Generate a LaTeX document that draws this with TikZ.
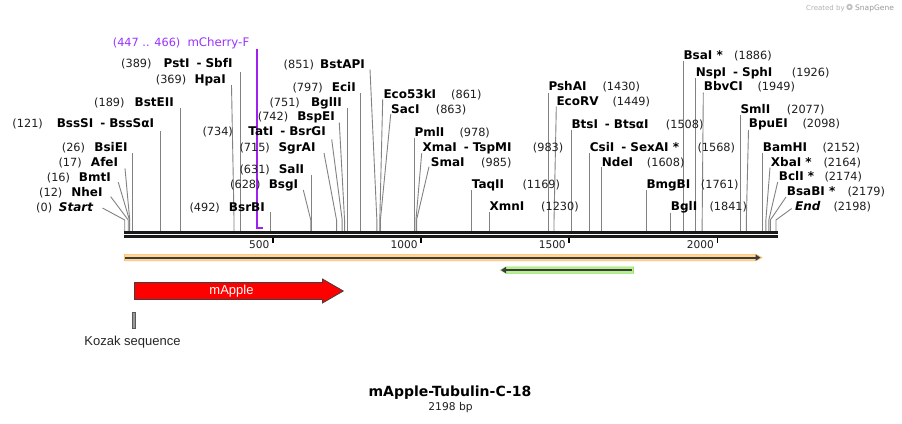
\documentclass[tikz,border=0pt]{standalone}
\usepackage{fontspec}
\setmainfont{DejaVu Sans}
\newfontfamily\arialfont{Liberation Sans}
\usetikzlibrary{arrows.meta}
\definecolor{sitegray}{RGB}{130,130,130}
\definecolor{numcol}{RGB}{30,30,30}
\definecolor{primercol}{RGB}{160,32,240}
\definecolor{primertext}{RGB}{153,51,255}
\definecolor{bbcol}{RGB}{26,26,26}
\definecolor{orangeband}{RGB}{255,214,150}
\definecolor{orangeedge}{RGB}{250,190,110}
\definecolor{greenband}{RGB}{180,240,140}
\definecolor{greenedge}{RGB}{150,225,110}
\definecolor{featline}{RGB}{60,60,60}
\tikzset{
  numlab/.style={inner sep=0pt, text=numcol, font=\fontsize{11.3}{13}\selectfont},
  namelab/.style={inner sep=0pt, text=black, font=\fontsize{12}{14}\selectfont\bfseries},
  site/.style={draw=sitegray, line width=0.9pt},
  ticklab/.style={inner sep=0pt, font=\fontsize{10.6}{12}\selectfont, text=numcol},
}
\newcommand{\rlab}[6]{%
  \node[namelab,anchor=base west] (#1n) at (#2,#3) {#4};
  \node[numlab,anchor=base west] (#1p) at (#5,#3) {#6};}
\newcommand{\llab}[6]{%
  \node[numlab,anchor=base west] (#1p) at (#2,#3) {#4};
  \node[namelab,anchor=base east] (#1n) at (#5,#3) {#6};}
\newcommand{\sline}[4]{%
  \pgfmathsetmacro\xb{124.7+0.2963*#4}%
  \coordinate (#1t) at (#2,#3);
  \coordinate (#1k) at (\xb,220);
  \coordinate (#1b) at (\xb,231);
  \draw[site] (#1t) -- (#1k) -- (#1b);}
\newcommand{\vsite}[3]{%
  \pgfmathsetmacro\xb{124.7+0.2963*#3}%
  \coordinate (#1t) at (\xb,#2);
  \coordinate (#1b) at (\xb,231);
  \draw[site] (#1t) -- (#1b);}
\newcommand{\pd}{\hspace*{7pt}-\hspace*{4pt}}
\begin{document}
\begin{tikzpicture}[x=1pt,y=-1pt]
\useasboundingbox (0,0) rectangle (902,423);
\fill[white] (0,0) rectangle (902,423);

% watermark
\node[inner sep=0pt, anchor=base west, text=black!30, font=\fontsize{7}{8}\selectfont] (created) at (806,10.5) {Created by};
\fill[black!25] (849.5,7) circle (3.2pt);
\fill[white] (849.5,7) circle (1.4pt);
\node[inner sep=0pt, anchor=base west, text=black!40, font=\fontsize{7.5}{8}\selectfont] (snapgene) at (855,10.5) {SnapGene};

% site lines
\sline{start}{102.5}{208}{0}
\sline{nhe}{110.7}{196.7}{12}
\sline{bmt}{118.3}{182.3}{16}
\sline{afe}{125}{168.3}{17}
\vsite{bsie}{153.3}{26}
\vsite{bsss}{131}{121}
\vsite{bste}{108.3}{189}
\sline{hpa}{231.5}{85}{369}
\vsite{pst}{71.5}{389}
\vsite{bsrb}{212}{492}
\sline{bsg}{303.3}{190}{628}
\vsite{sal}{175}{631}
\sline{sgra}{324}{153}{715}
\sline{tat}{331.7}{139.3}{734}
\sline{bspe}{339.3}{122.7}{742}
\vsite{bgltwo}{108.3}{751}
\vsite{eci}{93.3}{797}
\sline{bstap}{370}{69.3}{851}
\sline{ecofs}{382.7}{99.3}{861}
\sline{sac}{390.7}{114.3}{863}
\vsite{pml}{137.7}{978}
\sline{xma}{421.7}{153.3}{983}
\sline{sma}{429}{166.7}{985}
\vsite{taq}{190}{1169}
\vsite{xmn}{212.3}{1230}
\vsite{psha}{92.7}{1430}
\sline{ecorv}{556.3}{106.7}{1449}
\vsite{bts}{130}{1508}
\vsite{csi}{153.3}{1568}
\vsite{nde}{166.7}{1608}
\vsite{bmgb}{190}{1761}
\vsite{bglone}{212.7}{1841}
\vsite{bsa}{61}{1886}
\vsite{nsp}{78.3}{1926}
\sline{bbvc}{703.3}{92.7}{1949}
\vsite{sml}{115}{2077}
\sline{bpue}{748.5}{130}{2098}
\vsite{bamh}{152.7}{2152}
\sline{xba}{770}{167.5}{2164}
\sline{bcl}{777.7}{182}{2174}
\sline{bsab}{786}{197}{2179}
\sline{endp}{791.7}{208.5}{2198}

% primer
\coordinate (prtop) at (257,48.5);
\coordinate (prbot) at (257,228);
\coordinate (prend) at (262.8,228);
\draw[primercol, line width=1.3pt] (prtop) -- (prbot) -- (prend);
\node[inner sep=0pt, anchor=base west, text=primertext, font=\fontsize{11.3}{13}\selectfont] (prnum) at (112.7,46) {(447 .. 466)};
\node[inner sep=0pt, anchor=base west, text=primertext, font=\fontsize{11.8}{13}\selectfont] (prname) at (187.3,46) {mCherry-F};

% left labels
\llab{start}{36}{211}{(0)}{93.3}{\itshape Start}
\llab{nhe}{39}{196.3}{(12)}{102.7}{NheI}
\llab{bmt}{46.7}{181.3}{(16)}{111}{BmtI}
\llab{afe}{58.3}{166.7}{(17)}{118.3}{AfeI}
\llab{bsie}{61.7}{151}{(26)}{127.7}{BsiEI}
\llab{bsss}{12.3}{127.7}{(121)}{154.3}{BssSI\pd BssSαI}
\llab{bste}{94}{106}{(189)}{174}{BstEII}
\llab{hpa}{155.7}{83.3}{(369)}{226}{HpaI}
\llab{pst}{121}{67.7}{(389)}{232.7}{PstI\pd SbfI}
\llab{bsrb}{189.3}{211}{(492)}{265}{BsrBI}
\llab{bsg}{230}{188.3}{(628)}{298.3}{BsgI}
\llab{sal}{239.3}{173.3}{(631)}{304.3}{SalI}
\llab{sgra}{239.3}{151}{(715)}{315.7}{SgrAI}
\llab{tat}{202.3}{135.5}{(734)}{326}{TatI\pd BsrGI}
\llab{bspe}{257.7}{120.7}{(742)}{335}{BspEI}
\llab{bgltwo}{269.3}{106}{(751)}{342}{BglII}
\llab{eci}{292.3}{91}{(797)}{356}{EciI}
\llab{bstap}{283.5}{68.3}{(851)}{365}{BstAPI}

% right labels
\rlab{ecofs}{383.3}{98.3}{Eco53kI}{451}{(861)}
\rlab{sac}{391}{113.3}{SacI}{435.7}{(863)}
\rlab{pml}{414.3}{136}{PmlI}{459.3}{(978)}
\rlab{xma}{422.3}{151.7}{XmaI\pd TspMI}{532.7}{(983)}
\rlab{sma}{430.7}{166}{SmaI}{481}{(985)}
\rlab{taq}{471.7}{188.3}{TaqII}{522.3}{(1169)}
\rlab{xmn}{489.3}{210.7}{XmnI}{541}{(1230)}
\rlab{psha}{548.3}{90.7}{PshAI}{602.3}{(1430)}
\rlab{ecorv}{556.3}{105.7}{EcoRV}{612.3}{(1449)}
\rlab{bts}{571.3}{128.7}{BtsI\pd BtsαI}{665.7}{(1508)}
\rlab{csi}{589.7}{151.7}{CsiI\pd SexAI *}{697.3}{(1568)}
\rlab{nde}{601.7}{166}{NdeI}{646.7}{(1608)}
\rlab{bmgb}{646.3}{188.3}{BmgBI}{700.7}{(1761)}
\rlab{bglone}{670.7}{210.7}{BglI}{709.3}{(1841)}
\rlab{bsa}{683.3}{59.3}{BsaI *}{734}{(1886)}
\rlab{nsp}{695.7}{76}{NspI\pd SphI}{791.7}{(1926)}
\rlab{bbvc}{703.7}{90.7}{BbvCI}{757.3}{(1949)}
\rlab{sml}{740.3}{113.3}{SmlI}{786.7}{(2077)}
\rlab{bpue}{748.7}{127.7}{BpuEI}{802.3}{(2098)}
\rlab{bamh}{762.7}{151}{BamHI}{822.3}{(2152)}
\rlab{xba}{770.7}{166}{XbaI *}{823.3}{(2164)}
\rlab{bcl}{778.7}{180.7}{BclI *}{824.3}{(2174)}
\rlab{bsab}{786.7}{195.7}{BsaBI *}{847.3}{(2179)}
\rlab{endp}{795}{210}{\itshape End}{833.3}{(2198)}

% backbone
\fill[bbcol] (124,231) rectangle (777.5,233.7);
\fill[bbcol] (124,234.7) rectangle (777.5,237.7);
\foreach \v in {500,1000,1500,2000}{
  \pgfmathsetmacro\xt{124.7+0.2963*\v}
  \draw[black, line width=1.5pt] (\xt,237.7) -- (\xt,243);
  \node[ticklab, anchor=base east] (tick\v) at (\xt-3.2,248.5) {\v};
}

% orange feature
\fill[orangeband, draw=orangeedge, line width=0.6pt] (124.5,254.3) -- (756,254.3) -- (762,257.6) -- (756,260.9) -- (124.5,260.9) -- cycle;
\coordinate (orS) at (125,257.6);
\coordinate (orE) at (760.5,257.6);
\draw[featline, line width=1.8pt, -{Triangle[length=5pt,width=6pt]}] (orS) -- (orE);

% green feature
\fill[greenband, draw=greenedge, line width=0.6pt] (633.5,266.8) -- (506,266.8) -- (500.3,270.1) -- (506,273.4) -- (633.5,273.4) -- cycle;
\coordinate (grS) at (632,270.1);
\coordinate (grE) at (501,270.1);
\draw[featline, line width=1.8pt, -{Triangle[length=5pt,width=6pt]}] (grS) -- (grE);

% mApple arrow
\draw[fill=red, draw=black!75, line width=0.8pt] (134.4,282.5) -- (322.5,282.5) -- (322.5,279) -- (343.3,291) -- (322.5,303) -- (322.5,299.5) -- (134.4,299.5) -- cycle;
\node[inner sep=0pt, text=white, font=\arialfont\fontsize{13}{15}\selectfont] (mapple) at (231.5,291) {mApple};

% Kozak
\draw[fill=black!40, draw=black!65, line width=0.6pt] (132.1,312) rectangle (135.5,328);
\node[inner sep=0pt, anchor=base, font=\arialfont\fontsize{13}{15}\selectfont, text=black!85] (kozak) at (132.5,345.5) {Kozak sequence};

% title
\node[inner sep=0pt, anchor=base, font=\fontsize{14}{16}\selectfont\bfseries] (title) at (450,396.7) {mApple-Tubulin-C-18};
\node[inner sep=0pt, anchor=base, font=\fontsize{10.7}{12}\selectfont, text=numcol] (bp) at (450.5,410) {2198 bp};
\end{tikzpicture}
\end{document}
